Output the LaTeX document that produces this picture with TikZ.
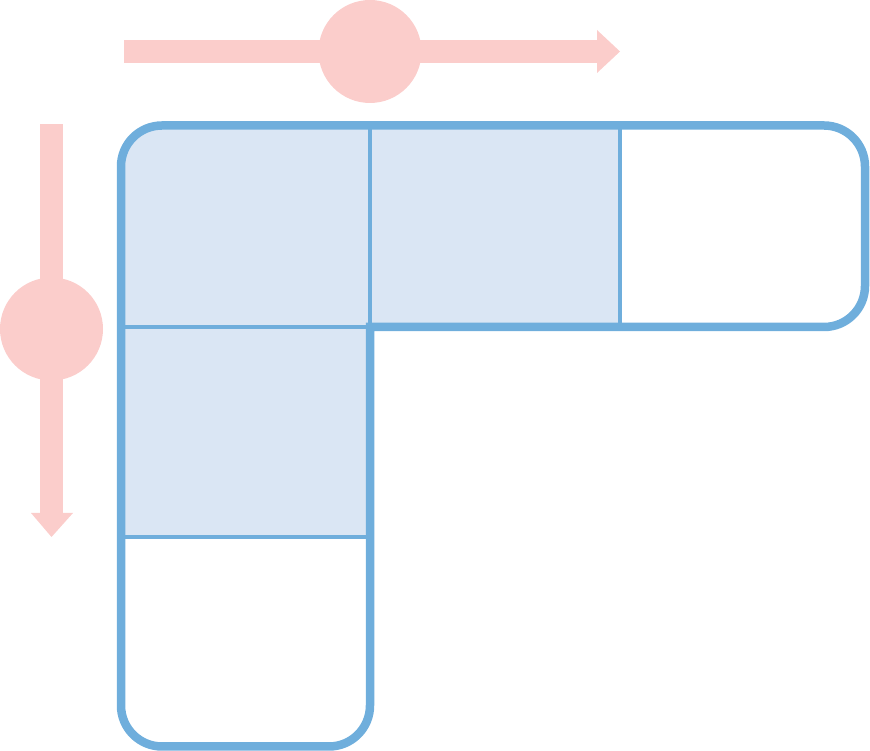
\documentclass[tikz,border=0pt]{standalone}
\definecolor{edgeblue}{RGB}{111,174,220}
\definecolor{cellblue}{RGB}{218,230,244}
\definecolor{markpink}{RGB}{251,205,203}
\tikzset{
  outline/.style={draw=edgeblue, line width=8.5pt, line join=miter},
  divider/.style={draw=edgeblue, line width=4pt},
  cellfill/.style={fill=cellblue},
  pinkmark/.style={fill=markpink, draw=none},
}
\begin{document}
\begin{tikzpicture}[x=1pt,y=1pt]
\useasboundingbox (0,0) rectangle (870,751);
% pink arrows
\fill[pinkmark] (124,688) rectangle (597,711);
\fill[pinkmark] (597,721) -- (620,699.5) -- (597,678) -- cycle;
\fill[pinkmark] (370,699.5) circle[radius=51.5];
\fill[pinkmark] (40,238) rectangle (63,627);
\fill[pinkmark] (31,238) -- (51.5,214) -- (73,238) -- cycle;
\fill[pinkmark] (51.5,422) circle[radius=51.5];
% filled cells
\fill[cellfill] (121,214) -- (121,584.5) arc[start angle=180,end angle=90,radius=41]
  -- (620,625.5) -- (620,424) -- (370,424) -- (370,214) -- cycle;
% dividers
\draw[divider] (370,625.5) -- (370,424);
\draw[divider] (620,625.5) -- (620,424);
\draw[divider] (121,424) -- (370,424);
\draw[divider] (121,214) -- (370,214);
% outline
\draw[outline] (370,424) -- (824,424) arc[start angle=-90,end angle=0,radius=41]
  -- (865,584.5) arc[start angle=0,end angle=90,radius=41]
  -- (162,625.5) arc[start angle=90,end angle=180,radius=41]
  -- (121,45.5) arc[start angle=180,end angle=270,radius=41]
  -- (329,4.5) arc[start angle=270,end angle=360,radius=41]
  -- cycle;
\end{tikzpicture}
\end{document}
